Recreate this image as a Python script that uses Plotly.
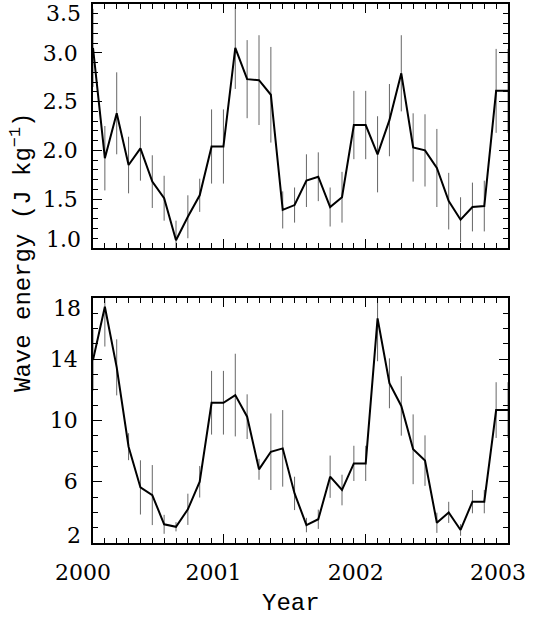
import plotly.graph_objects as go

# Month index 1..36 (Jan 2000 .. Dec 2002)
months = list(range(1, 37))

top_vals = [3.05, 1.92, 2.38, 1.85, 2.02, 1.68, 1.51, 1.08, 1.32, 1.54, 2.04, 2.04,
            3.05, 2.73, 2.72, 2.57, 1.39, 1.44, 1.69, 1.73, 1.42, 1.52, 2.26, 2.26,
            1.96, 2.31, 2.79, 2.03, 2.00, 1.82, 1.48, 1.29, 1.42, 1.43, 2.61, 2.61]
top_err = [0.40, 0.33, 0.42, 0.29, 0.33, 0.27, 0.23, 0.20, 0.22, 0.17, 0.38, 0.38,
           0.42, 0.40, 0.46, 0.49, 0.19, 0.18, 0.27, 0.25, 0.20, 0.26, 0.35, 0.35,
           0.39, 0.37, 0.39, 0.35, 0.37, 0.40, 0.29, 0.23, 0.25, 0.26, 0.43, 0.43]

bot_vals = [13.95, 17.43, 13.47, 8.29, 5.63, 5.13, 3.22, 3.06, 4.20, 6.00, 11.16, 11.16,
            11.66, 10.25, 6.81, 7.96, 8.18, 5.24, 3.17, 3.55, 6.33, 5.46, 7.20, 7.20,
            16.67, 12.43, 10.95, 8.12, 7.38, 3.32, 4.00, 2.85, 4.70, 4.70, 10.68, 10.68]
bot_err = [2.0, 2.6, 1.83, 0.88, 1.77, 1.96, 0.62, 0.30, 1.02, 1.03, 2.08, 2.08,
           2.7, 1.46, 0.68, 2.5, 2.5, 1.09, 0.47, 0.63, 1.38, 1.0, 1.15, 1.15,
           2.8, 1.63, 1.94, 2.28, 1.65, 0.66, 0.69, 0.38, 0.76, 0.76, 1.82, 1.82]

x_tickvals = [1, 12, 24, 36]
x_ticktext = ["2000", "2001", "2002", "2003"]
top_ticks = [1.0, 1.5, 2.0, 2.5, 3.0, 3.5]
bot_ticks = [2, 6, 10, 14, 18]

FONT = "DejaVu Serif"
TFONT = "Liberation Mono"
FS = 22

fig = go.Figure()
for vals, err, xa, ya in [(top_vals, top_err, "x", "y"), (bot_vals, bot_err, "x2", "y2")]:
    fig.add_trace(go.Scatter(
        x=months, y=vals, xaxis=xa, yaxis=ya, mode="lines",
        line=dict(color="black", width=2),
        error_y=dict(type="data", array=err, visible=True, color="#666666",
                     thickness=1, width=0),
        showlegend=False, hoverinfo="skip"))

common = dict(showline=True, linecolor="black", linewidth=1.5, mirror="allticks",
              ticks="inside", ticklen=9, tickwidth=1.2, tickcolor="black",
              showgrid=False, zeroline=False, automargin=False,
              tickfont=dict(family=FONT, size=FS, color="black"))

def xaxis(domain_anchor, show_labels):
    d = dict(common)
    d.update(range=[1, 36], tickmode="array", tickvals=x_tickvals,
             ticktext=x_ticktext, showticklabels=show_labels,
             anchor=domain_anchor, domain=[0, 1],
             ticklabelstandoff=9, ticklabelshift=-10,
             minor=dict(ticks="inside", ticklen=5, tickwidth=1, tickcolor="black",
                        tickmode="linear", tick0=1, dtick=1))
    return d

def yaxis(rng, ticks, fmt, minor_dtick, dom, anchor):
    d = dict(common)
    inner = ticks[1:-1]  # end ticks sit on the frame; their labels are annotations
    d.update(range=rng, tickmode="array", tickvals=inner,
             ticktext=[fmt.format(t) for t in inner],
             domain=dom, anchor=anchor, ticklabelstandoff=9,
             minor=dict(ticks="inside", ticklen=5, tickwidth=1, tickcolor="black",
                        tickmode="linear", tick0=rng[0], dtick=minor_dtick))
    return d

W, H = 539, 618
ml, mr, mt, mb = 93, 31, 4, 75
ph = H - mt - mb
top_dom = [(543 - 248) / ph, 1.0]
bot_dom = [0.0, (543 - 298) / ph]

fig.update_layout(
    width=W, height=H,
    margin=dict(l=ml, r=mr, t=mt, b=mb, autoexpand=False),
    paper_bgcolor="white", plot_bgcolor="white",
    xaxis=xaxis("y", False),
    xaxis2=xaxis("y2", True),
    yaxis=yaxis([1.0, 3.5], top_ticks, "{:.1f}", 0.1, top_dom, "x"),
    yaxis2=yaxis([2, 18], bot_ticks, "{:d}", 1, bot_dom, "x2"),
)

annots = []
# end tick labels, shifted inward like the original
for yref, ticks, fmt, shifts in [("y", top_ticks, "{:.1f}", (9, -9)),
                                 ("y2", bot_ticks, "{:d}", (8, -10))]:
    annots.append(dict(xref="paper", yref=yref, x=0, y=ticks[0], text=fmt.format(ticks[0]),
                       xanchor="right", yanchor="middle", xshift=-10, yshift=shifts[0],
                       showarrow=False, font=dict(family=FONT, size=FS, color="black")))
    annots.append(dict(xref="paper", yref=yref, x=0, y=ticks[-1], text=fmt.format(ticks[-1]),
                       xanchor="right", yanchor="middle", xshift=-10, yshift=shifts[1],
                       showarrow=False, font=dict(family=FONT, size=FS, color="black")))

annots.append(dict(xref="paper", yref="paper", x=(22 - ml) / (W - ml - mr),
                   y=(543 - 253) / ph, text="Wave energy (J kg<sup>\u22121</sup>)",
                   textangle=-90, xanchor="center", yanchor="middle", showarrow=False,
                   font=dict(family=TFONT, size=24, color="black")))
annots.append(dict(xref="paper", yref="paper", x=(291 - ml) / (W - ml - mr),
                   y=(543 - 603) / ph, text="Year", xanchor="center", yanchor="middle",
                   showarrow=False, font=dict(family=TFONT, size=24, color="black")))
fig.update_layout(annotations=annots)

fig.write_html("out.html")
